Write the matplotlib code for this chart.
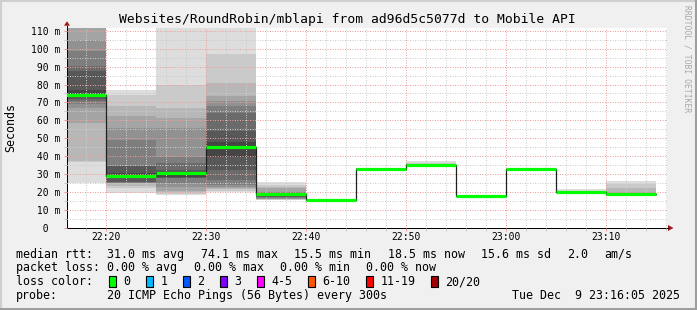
import numpy as np
import matplotlib
matplotlib.use('Agg')
import matplotlib.pyplot as plt
from matplotlib.patches import Rectangle, Polygon

W, H = 697, 310
plt.rcParams['font.family'] = 'DejaVu Sans Mono'

# 5 minute bins, minutes after 22:00
bin_start = [15, 20, 25, 30, 35, 40, 45, 50, 55, 60, 65, 70]
bin_width = 5

ping_2215 = [25.0, 37.0, 37.2, 58.5, 66.9, 69.0, 70.6, 72.0, 73.5, 74.1,
             74.3, 77.1, 87.3, 90.1, 98.5, 105.0, 115.0, 125.0, 135.0, 150.0]
ping_2220 = [19.5, 22.3, 23.5, 25.1, 25.2, 25.3, 25.4, 25.5, 28.5, 28.9,
             29.0, 30.5, 34.3, 34.5, 49.2, 55.7, 62.2, 68.2, 74.3, 77.1]
ping_2225 = [18.4, 19.0, 20.3, 20.5, 23.0, 25.0, 27.9, 28.0, 28.2, 30.8,
             31.0, 31.2, 32.4, 36.1, 39.8, 55.9, 61.5, 67.0, 79.9, 125.0]
ping_2230 = [20.3, 20.5, 21.5, 22.2, 23.0, 24.0, 26.8, 32.4, 39.8, 45.4,
             45.5, 48.2, 53.8, 64.1, 68.0, 70.6, 73.4, 80.8, 97.2, 130.0]
ping_2235 = [15.6, 15.8, 16.0, 16.2, 16.4, 16.6, 17.2, 17.5, 17.9, 18.8,
             19.0, 19.3, 19.5, 19.7, 20.0, 20.3, 22.2, 23.0, 24.0, 25.9]
ping_2240 = [15.2, 15.3, 15.3, 15.4, 15.4, 15.4, 15.5, 15.5, 15.5, 15.5,
             15.6, 15.6, 15.6, 15.7, 15.7, 15.7, 15.8, 15.8, 15.9, 16.0]
ping_2245 = [32.6, 32.7, 32.7, 32.8, 32.8, 32.9, 32.9, 32.9, 33.0, 33.0,
             33.0, 33.0, 33.1, 33.1, 33.1, 33.2, 33.2, 33.3, 33.3, 33.4]
ping_2250 = [35.0, 35.0, 35.1, 35.1, 35.2, 35.2, 35.3, 35.3, 35.3, 35.4,
             35.4, 35.5, 35.5, 35.6, 35.6, 35.7, 35.8, 35.9, 36.2, 37.6]
ping_2255 = [17.5, 17.6, 17.6, 17.7, 17.7, 17.8, 17.8, 17.8, 17.9, 17.9,
             17.9, 17.9, 18.0, 18.0, 18.0, 18.1, 18.1, 18.2, 18.2, 18.3]
ping_2300 = [32.4, 32.5, 32.5, 32.6, 32.6, 32.7, 32.7, 32.7, 32.8, 32.8,
             32.8, 32.8, 32.9, 32.9, 33.0, 33.0, 33.1, 33.1, 33.2, 33.3]
ping_2305 = [19.9, 20.0, 20.0, 20.1, 20.1, 20.2, 20.2, 20.2, 20.3, 20.3,
             20.3, 20.3, 20.4, 20.4, 20.5, 20.5, 20.6, 20.7, 20.9, 21.8]
ping_2310 = [18.0, 18.1, 18.2, 18.3, 18.4, 18.5, 18.5, 18.6, 18.6, 18.7,
             18.9, 19.0, 19.1, 19.2, 19.4, 19.5, 20.0, 22.2, 24.6, 26.3]

median = [74.1, 28.9, 30.9, 45.4, 18.8, 15.6, 33.0, 35.4, 17.9, 32.8, 20.3, 18.8]

xtick_min = [20, 30, 40, 50, 60, 70]
xtick_labels = ['22:20', '22:30', '22:40', '22:50', '23:00', '23:10']
ytick_ms = [0, 10, 20, 30, 40, 50, 60, 70, 80, 90, 100, 110]

loss_labels = ['0', '1', '2', '3', '4-5', '6-10', '11-19', '20/20']
loss_colors = ['#00ff00', '#00b8ff', '#0059ff', '#7e00ff', '#ff00ff',
               '#ff5500', '#ff0000', '#a10000']

title = 'Websites/RoundRobin/mblapi from ad96d5c5077d to Mobile API'
rtt_parts = ['31.0 ms avg', '74.1 ms max', '15.5 ms min', '18.5 ms now',
             '15.6 ms sd', '2.0', 'am/s']
loss_parts = ['0.00 % avg', '0.00 % max', '0.00 % min', '0.00 % now']
probe_text = '20 ICMP Echo Pings (56 Bytes) every 300s'
stamp = 'Tue Dec  9 23:16:05 2025'

pings = [ping_2215, ping_2220, ping_2225, ping_2230, ping_2235, ping_2240,
         ping_2245, ping_2250, ping_2255, ping_2300, ping_2305, ping_2310]

fig = plt.figure(figsize=(W / 100, H / 100), dpi=100, facecolor='#f0f0f0')
# pixel overlay for frame and legend
bg = fig.add_axes([0, 0, 1, 1])
bg.set_xlim(0, W)
bg.set_ylim(H, 0)
bg.axis('off')
bg.set_zorder(0)

L, T, PW, PH = 67, 28, 600, 200
ax = fig.add_axes([L / W, (H - T - PH) / H, PW / W, PH / H])
ax.set_zorder(1)
ax.set_facecolor('white')
ax.set_xlim(16.083, 76.083)
ax.set_ylim(0, 111.5)

# smoke: band i spans ping[i] .. ping[21-i], darker towards the middle
for s, p in zip(bin_start, pings):
    p = sorted(p)
    for i in range(1, 11):
        g = int(190 / 10 * (10 - i)) + 50
        lo, hi = p[i - 1], p[20 - i]
        ax.bar(s, hi - lo, bottom=lo, width=bin_width, align='edge',
               color='#%02x%02x%02x' % (g, g, g), linewidth=0, zorder=1)

edges = bin_start + [bin_start[-1] + bin_width]
ax.step(edges, median + [median[-1]], where='post', color='#202020',
        lw=0.9, zorder=3)
ax.hlines(median, bin_start, [s + bin_width for s in bin_start],
          colors=loss_colors[0], lw=2.3, zorder=4)

# grid
ax.set_xticks(xtick_min)
ax.set_xticklabels(xtick_labels, fontsize=7)
ax.set_xticks(np.arange(18, 77, 2), minor=True)
ax.set_yticks(ytick_ms)
ax.set_yticklabels(['%3d m' % v if v else '  0' for v in ytick_ms], fontsize=7)
ax.set_yticks(np.arange(5, 111, 10), minor=True)
ax.set_axisbelow(False)
ax.grid(which='minor', color='#cccccc', linestyle=(0, (1, 1.5)), lw=0.72,
        zorder=2)
ax.grid(which='major', color='#eba0a0', linestyle=(0, (1, 1.5)), lw=0.72,
        zorder=2)
ax.tick_params(which='both', direction='out', length=2, width=0.72)
ax.tick_params(which='major', color='#e89a9a')
ax.tick_params(which='minor', color='#c8c8c8')
ax.tick_params(axis='x', which='major', pad=1)
ax.tick_params(axis='y', which='major', pad=24.1)
for t in ax.get_yticklabels():
    t.set_horizontalalignment('left')
for side in ['top', 'right']:
    ax.spines[side].set_visible(False)
for side in ['left', 'bottom']:
    ax.spines[side].set_color('black')
    ax.spines[side].set_linewidth(0.72)

# axis arrows
arrow = '#a01818'
bg.plot([L, L], [T, 25.5], color='black', lw=0.72)
bg.plot([L + PW, L + PW + 1], [T + PH, T + PH], color='black', lw=0.72)
bg.add_patch(Polygon([[L - 3, 25.7], [L + 3, 25.7], [L, 21.2]], closed=True,
                     color=arrow, lw=0))
bg.add_patch(Polygon([[668, T + PH - 3], [668, T + PH + 3], [673.5, T + PH]],
                     closed=True, color=arrow, lw=0))

# frame shading
bg.plot([0.5, W - 1, ], [1, 1], color='#cfcfcf', lw=1.5)
bg.plot([1, 1], [0.5, H - 1], color='#cfcfcf', lw=1.5)
bg.plot([0, W], [H - 1.5, H - 1.5], color='#9e9e9e', lw=2.2)
bg.plot([W - 1.5, W - 1.5], [0, H], color='#9e9e9e', lw=2.2)

# texts
bg.text(347, 19, title, fontsize=9.4, ha='center', va='center')
bg.text(11, 128, 'Seconds', fontsize=8.4, rotation=90, ha='center', va='center')
bg.text(686.5, 5, 'RRDTOOL / TOBI OETIKER', fontsize=5.8, rotation=-90,
        ha='center', va='top', color='#a8a8a8')

fs = 8.4
cw = 7.0
gap = 16.4
x0 = 107.3
rows = [254.3, 267.7, 281.7, 295.7]

bg.text(16, rows[0], 'median rtt:', fontsize=fs, va='center')
x = x0
for part in rtt_parts:
    bg.text(x, rows[0], part, fontsize=fs, va='center')
    x += len(part) * cw + gap

bg.text(16, rows[1], 'packet loss:', fontsize=fs, va='center')
x = x0
for part in loss_parts:
    bg.text(x, rows[1], part, fontsize=fs, va='center')
    x += len(part) * cw + gap

bg.text(16, rows[2], 'loss color:', fontsize=fs, va='center')
x = 108.7
for lab, col in zip(loss_labels, loss_colors):
    bg.add_patch(Rectangle((x, rows[2] - 5.6), 7.3, 11.2, facecolor=col,
                           edgecolor='black', lw=0.8))
    bg.text(x + 14.6, rows[2], lab, fontsize=fs, va='center')
    x += 14.6 + len(lab) * cw + 15.4

bg.text(16, rows[3], 'probe:', fontsize=fs, va='center')
bg.text(x0, rows[3], probe_text, fontsize=fs, va='center')
bg.text(680, rows[3], stamp, fontsize=fs, va='center', ha='right')

fig.savefig('out.png', dpi=100, facecolor=fig.get_facecolor())
